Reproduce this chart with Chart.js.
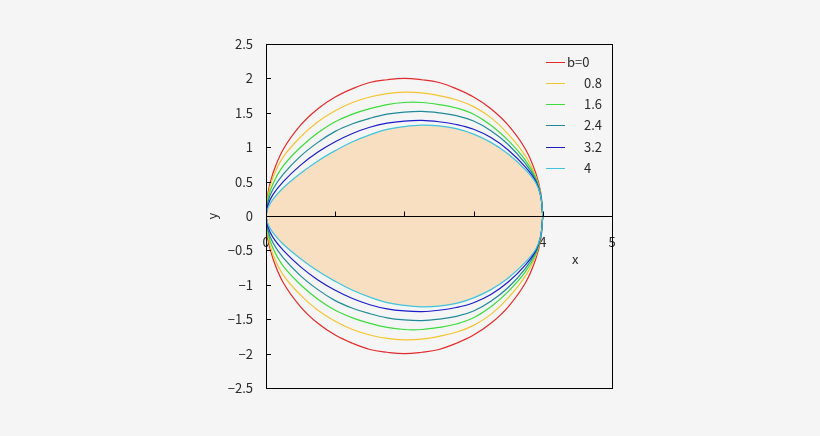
<!DOCTYPE html>
<html>
<head>
<meta charset="utf-8">
<script src="https://cdn.jsdelivr.net/npm/chart.js@4"></script>
<style>
  html, body { margin: 0; padding: 0; background: #f5f5f5; }
  #wrap { width: 820px; height: 436px; }
</style>
</head>
<body>
<div id="wrap"><canvas id="c"></canvas></div>
<script>
// --- data (upper half; the lower half mirrors it) ---
const xValues = [0, 0.03, 0.1, 0.25, 0.5, 0.75, 1, 1.25, 1.5, 1.75, 2, 2.25, 2.5, 2.75, 3, 3.25, 3.5, 3.75, 3.9, 3.97, 4];
const yB0  = [0, 0.34, 0.62, 0.97, 1.32, 1.56, 1.73, 1.85, 1.94, 1.98, 2.00, 1.98, 1.94, 1.85, 1.73, 1.56, 1.32, 0.97, 0.62, 0.34, 0];
const yB08 = [0, 0.30, 0.56, 0.86, 1.15, 1.37, 1.53, 1.65, 1.73, 1.78, 1.80, 1.79, 1.75, 1.69, 1.59, 1.43, 1.19, 0.87, 0.57, 0.32, 0];
const yB16 = [0, 0.25, 0.47, 0.73, 1.00, 1.21, 1.37, 1.48, 1.56, 1.62, 1.65, 1.65, 1.62, 1.57, 1.48, 1.32, 1.10, 0.81, 0.55, 0.31, 0];
const yB24 = [0, 0.21, 0.39, 0.61, 0.87, 1.07, 1.23, 1.34, 1.42, 1.48, 1.51, 1.52, 1.50, 1.46, 1.38, 1.24, 1.04, 0.76, 0.52, 0.30, 0];
const yB32 = [0, 0.16, 0.31, 0.50, 0.74, 0.93, 1.08, 1.20, 1.29, 1.35, 1.38, 1.39, 1.37, 1.33, 1.26, 1.14, 0.96, 0.71, 0.50, 0.29, 0];
const yB4  = [0, 0.12, 0.24, 0.41, 0.62, 0.80, 0.95, 1.08, 1.18, 1.26, 1.30, 1.32, 1.31, 1.27, 1.19, 1.07, 0.90, 0.67, 0.48, 0.29, 0];

const seriesLabels = ['b=0', '0.8', '1.6', '2.4', '3.2', '4'];
const seriesValues = [yB0, yB08, yB16, yB24, yB32, yB4];
const seriesColors = ['#e42a2a', '#f4c430', '#3cdc3c', '#1f8a98', '#1c1cc8', '#40c4dc'];
const fillColor = '#f8dfc2';

const xTicks = [0, 1, 2, 3, 4, 5];
const yTicks = [-2.5, -2, -1.5, -1, -0.5, 0, 0.5, 1, 1.5, 2, 2.5];

const FONT = "'Noto Sans CJK JP', 'DejaVu Sans', sans-serif";
const TEXT = '#2a2a2a';

// --- datasets: one upper and one lower line per curve ---
const datasets = [];
seriesValues.forEach((ys, i) => {
    const isLast = i === seriesValues.length - 1;
    const upper = xValues.map((x, k) => ({ x: x, y: ys[k] }));
    const lower = xValues.map((x, k) => ({ x: x, y: -ys[k] }));
    [upper, lower].forEach(pts => {
        datasets.push({
            label: seriesLabels[i],
            data: pts,
            showLine: true,
            borderColor: seriesColors[i],
            borderWidth: 1.2,
            pointRadius: 0,
            tension: 0.4,
            fill: isLast ? 'origin' : false,
            backgroundColor: isLast ? fillColor : 'transparent',
            order: seriesValues.length - i
        });
    });
});

// --- frame, inner ticks, axis names, legend ---
const decorations = {
    id: 'decorations',
    afterDraw(chart) {
        const { ctx, chartArea: a, scales } = chart;
        const xs = scales.x, ys = scales.y;
        ctx.save();
        ctx.strokeStyle = '#000';
        ctx.lineWidth = 1;
        ctx.strokeRect(Math.round(a.left) + 0.5, Math.round(a.top) + 0.5,
            Math.round(a.right - a.left), Math.round(a.bottom - a.top));

        // x axis line at y = 0 and tick marks pointing into the plot
        const y0 = Math.round(ys.getPixelForValue(0)) + 0.5;
        ctx.beginPath();
        ctx.moveTo(a.left, y0);
        ctx.lineTo(a.right, y0);
        xTicks.forEach(v => {
            const px = Math.round(xs.getPixelForValue(v)) + 0.5;
            ctx.moveTo(px, y0);
            ctx.lineTo(px, y0 - 5);
        });
        yTicks.forEach(v => {
            const py = Math.round(ys.getPixelForValue(v)) + 0.5;
            ctx.moveTo(a.left, py);
            ctx.lineTo(a.left + 5, py);
        });
        ctx.stroke();

        // axis names
        ctx.fillStyle = TEXT;
        ctx.font = '13px ' + FONT;
        ctx.textAlign = 'center';
        ctx.textBaseline = 'middle';
        ctx.fillText('x', xs.getPixelForValue(4.47), ys.getPixelForValue(0) + 43);
        ctx.save();
        ctx.translate(a.left - 54, ys.getPixelForValue(0));
        ctx.rotate(-Math.PI / 2);
        ctx.fillText('y', 0, 0);
        ctx.restore();

        // legend
        ctx.textAlign = 'left';
        seriesLabels.forEach((lab, i) => {
            const ly = Math.round(a.top + 17.5 + i * 21.3) + 0.5;
            ctx.strokeStyle = seriesColors[i];
            ctx.beginPath();
            ctx.moveTo(a.right - 66, ly);
            ctx.lineTo(a.right - 47, ly);
            ctx.stroke();
            ctx.fillText(lab, a.right - (i === 0 ? 45 : 28), ly);
        });
        ctx.restore();
    }
};

new Chart(document.getElementById('c'), {
    type: 'scatter',
    data: { datasets: datasets },
    plugins: [decorations],
    options: {
        responsive: true,
        maintainAspectRatio: false,
        animation: false,
        devicePixelRatio: 1,
        layout: { padding: { left: 204, right: 208, top: 44, bottom: 48 } },
        plugins: {
            legend: { display: false },
            tooltip: { enabled: false },
            filler: { drawTime: 'beforeDatasetsDraw' }
        },
        scales: {
            x: {
                type: 'linear',
                position: { y: 0 },
                min: 0, max: 5,
                afterBuildTicks: s => { s.ticks = xTicks.map(v => ({ value: v })); },
                grid: { drawOnChartArea: false, drawTicks: false },
                border: { display: false },
                ticks: { padding: 18, color: TEXT, font: { family: FONT, size: 13 }, maxRotation: 0, autoSkip: false }
            },
            y: {
                type: 'linear',
                min: -2.5, max: 2.5,
                afterFit: s => { s.width = 62; },
                afterBuildTicks: s => { s.ticks = yTicks.map(v => ({ value: v })); },
                grid: { drawOnChartArea: false, drawTicks: false },
                border: { display: false },
                ticks: {
                    padding: 13, color: TEXT, autoSkip: false,
                    font: { family: FONT, size: 13 },
                    callback: v => String(v).replace('-', '\u2212')
                }
            }
        }
    }
});
</script>
</body>
</html>
